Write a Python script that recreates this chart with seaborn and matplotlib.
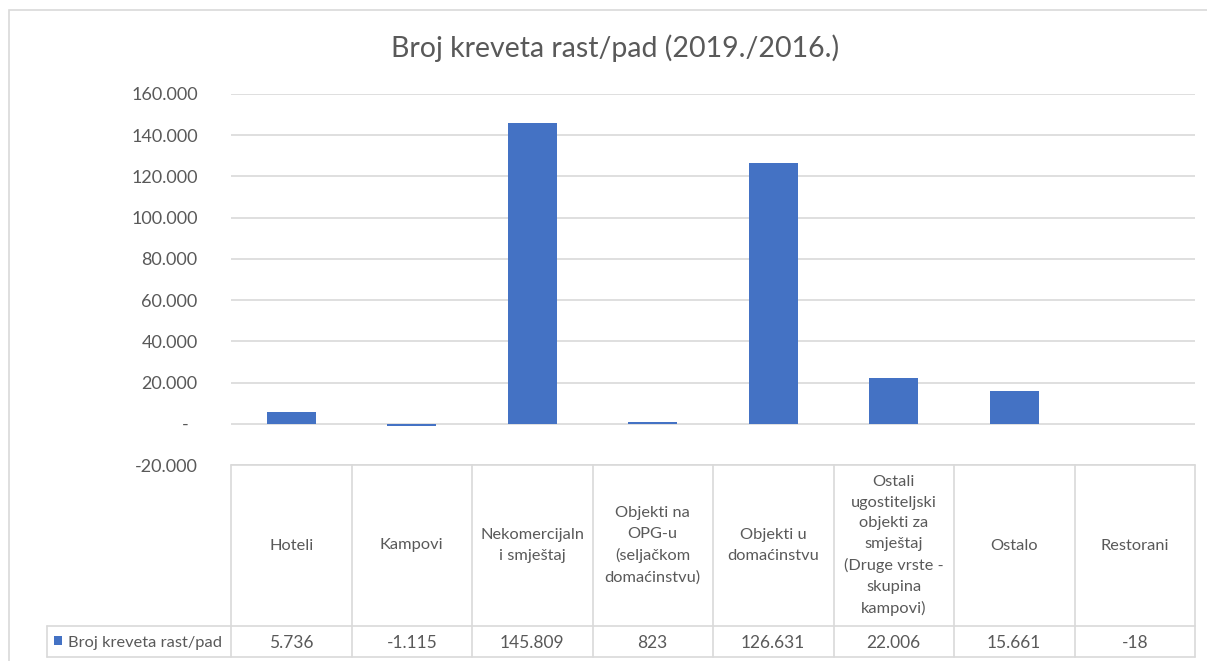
import matplotlib
matplotlib.use("Agg")
import matplotlib.pyplot as plt
import seaborn as sns
import numpy as np
from matplotlib.patches import Rectangle

sns.set_theme(style="white")
plt.rcParams['font.family'] = ['Lato', 'DejaVu Sans']

title = "Broj kreveta rast/pad (2019./2016.)"
series_name = "Broj kreveta rast/pad"
categories = ["Hoteli", "Kampovi", "Nekomercijaln\ni smještaj",
              "Objekti na\nOPG-u\n(seljačkom\ndomaćinstvu)",
              "Objekti u\ndomaćinstvu",
              "Ostali\nugostiteljski\nobjekti za\nsmještaj\n(Druge vrste -\nskupina\nkampovi)",
              "Ostalo", "Restorani"]
values = [5736, -1115, 145809, 823, 126631, 22006, 15661, -18]
yticks = [-20000, 0, 20000, 40000, 60000, 80000, 100000, 120000, 140000, 160000]

W, H = 1207, 661
TXT = "#595959"
GRID = "#D9D9D9"
BLUE = "#4472C4"

def fmt(v):
    if v == 0:
        return "-  "
    return f"{v:,}".replace(",", ".")

fig = plt.figure(figsize=(W / 100, H / 100), dpi=100)

# outer chart border
fig.patches.append(Rectangle((9 / W, -0.05), 1.1, (H - 10) / H + 0.05, transform=fig.transFigure,
                             fill=False, edgecolor=GRID, linewidth=1.2))

x0, x1 = 231, 1195
ytop, ybot = 94, 465
ax = fig.add_axes([x0 / W, (H - ybot) / H, (x1 - x0) / W, (ybot - ytop) / H])
sns.barplot(x=list(range(len(values))), y=values, color=BLUE, width=0.41,
            saturation=1, ax=ax, edgecolor="none")
ax.set_xlim(-0.5, len(values) - 0.5)
ax.set_ylim(yticks[0], yticks[-1])
ax.set_yticks(yticks)
ax.set_yticklabels([fmt(v) for v in yticks], fontsize=13, color=TXT)
ax.tick_params(axis="y", length=0, pad=24)
ax.set_xticks([])
for v in yticks:
    ax.axhline(v, color=GRID, linewidth=1.2, zorder=0)
for s in ax.spines.values():
    s.set_visible(False)
ax.set_xlabel("")
ax.set_ylabel("")

fig.text(615 / W, (H - 48) / H, title, ha="center", va="center", fontsize=20.5, color=TXT)

# data table
tl, tt, tb = 47, 465, 657
hb = 626
colw = (x1 - x0) / len(values)
tab = fig.add_axes([tl / W, (H - tb) / H, (x1 - tl) / W, (tb - tt) / H])
tab.set_xlim(tl, x1)
tab.set_ylim(tb, tt)
tab.axis("off")
lw = 1.2
tab.plot([x0, x1], [tt, tt], color=GRID, lw=lw, clip_on=False)
tab.plot([tl, x1], [hb, hb], color=GRID, lw=lw, clip_on=False)
tab.plot([tl, x1], [tb, tb], color=GRID, lw=lw, clip_on=False)
tab.plot([tl, tl], [hb, tb], color=GRID, lw=lw, clip_on=False)
for i in range(len(values) + 1):
    xx = x0 + i * colw
    tab.plot([xx, xx], [tt, tb], color=GRID, lw=lw, clip_on=False)
for i, (c, v) in enumerate(zip(categories, values)):
    cx = x0 + (i + 0.5) * colw
    tab.text(cx, (tt + hb) / 2, c, ha="center", va="center", fontsize=11.8,
             color=TXT, linespacing=1.6)
    tab.text(cx, (hb + tb) / 2 + 1, fmt(v), ha="center", va="center", fontsize=12.5,
             color=TXT)
tab.add_patch(Rectangle((54, 636), 8, 9, facecolor=BLUE, edgecolor="none", clip_on=False))
tab.text(68, (hb + tb) / 2 + 1, series_name, ha="left", va="center", fontsize=11.8, color=TXT)

fig.savefig("out.png", dpi=100)
